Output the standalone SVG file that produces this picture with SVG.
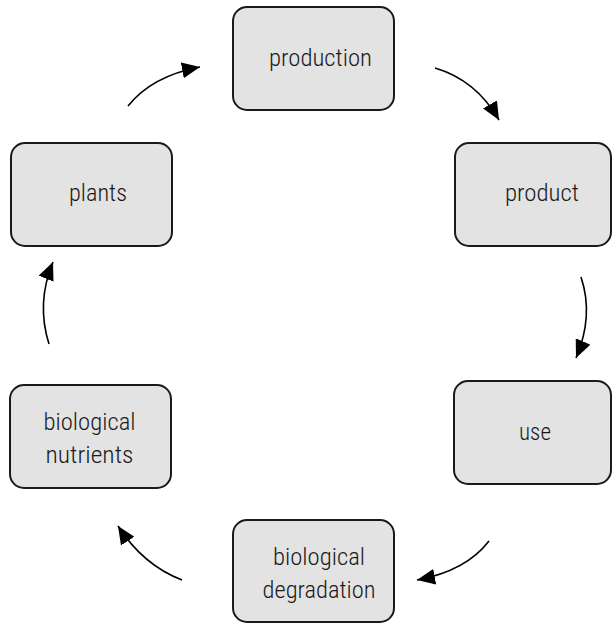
<svg xmlns="http://www.w3.org/2000/svg" width="612" height="623" viewBox="0 0 612 623">
<style>
.box{fill:#e3e3e3;stroke:#1a1a1a;stroke-width:2}
.lbl{font-family:"Roboto Condensed",Roboto,sans-serif;font-weight:300;font-size:23px;fill:#1a1a1a;text-anchor:middle}
.edge{fill:none;stroke:#000;stroke-width:1.6}
</style>
<defs>
<marker id="ah" viewBox="0 0 18 16" refX="18" refY="8" markerWidth="18" markerHeight="16" markerUnits="userSpaceOnUse" orient="auto">
<path d="M0,0 L18,8 L0,16 Z" fill="#000"/>
</marker>
</defs>
<rect width="612" height="623" fill="#fff"/>
<g id="production"><rect class="box" x="233" y="7" width="161" height="103" rx="14"/><text class="lbl" x="320.5" y="66" textLength="103" lengthAdjust="spacingAndGlyphs">production</text></g>
<g id="product"><rect class="box" x="455" y="143" width="156" height="103" rx="14"/><text class="lbl" x="542" y="201" textLength="74" lengthAdjust="spacingAndGlyphs">product</text></g>
<g id="use"><rect class="box" x="454" y="381" width="157" height="103" rx="14"/><text class="lbl" x="535" y="440" textLength="32" lengthAdjust="spacingAndGlyphs">use</text></g>
<g id="degradation"><rect class="box" x="233" y="520" width="161" height="102" rx="14"/><text class="lbl" x="319" y="565" textLength="92" lengthAdjust="spacingAndGlyphs">biological</text><text class="lbl" x="319" y="598" textLength="113" lengthAdjust="spacingAndGlyphs">degradation</text></g>
<g id="nutrients"><rect class="box" x="10" y="385" width="161" height="103" rx="14"/><text class="lbl" x="89.5" y="430" textLength="92" lengthAdjust="spacingAndGlyphs">biological</text><text class="lbl" x="89.5" y="463" textLength="88" lengthAdjust="spacingAndGlyphs">nutrients</text></g>
<g id="plants"><rect class="box" x="11" y="143" width="161" height="103" rx="14"/><text class="lbl" x="98" y="201" textLength="58" lengthAdjust="spacingAndGlyphs">plants</text></g>
<g id="connectors">
<path class="edge" d="M128,106 Q152,76 200,67" marker-end="url(#ah)"/>
<path class="edge" d="M435,68 Q476,80 499,120" marker-end="url(#ah)"/>
<path class="edge" d="M581,277 Q594,316 576,358" marker-end="url(#ah)"/>
<path class="edge" d="M489,541 Q466,571 417,580" marker-end="url(#ah)"/>
<path class="edge" d="M182,580 Q143,565 118,526" marker-end="url(#ah)"/>
<path class="edge" d="M49,344 Q36,303 53,262" marker-end="url(#ah)"/>
</g>
</svg>
